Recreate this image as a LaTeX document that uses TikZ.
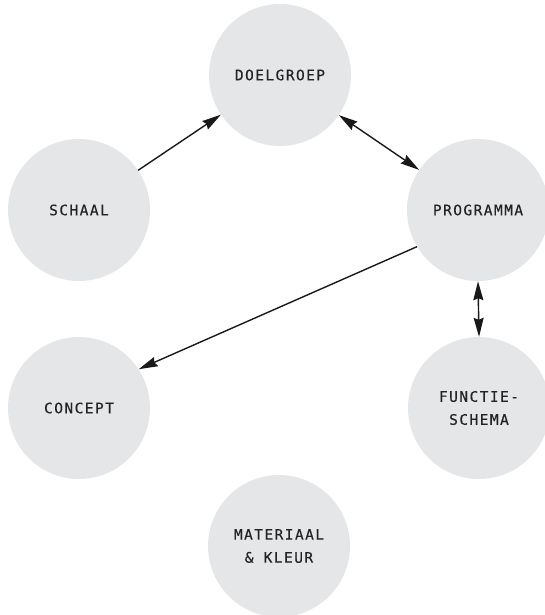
\documentclass[tikz,border=0pt]{standalone}
\usepackage{fontspec}
\newfontfamily\lblfont[LetterSpace=10,FakeBold=0.3]{DejaVu Sans Mono}
\usetikzlibrary{arrows.meta}
\definecolor{circfill}{RGB}{229,230,232}
\definecolor{lbltext}{RGB}{35,35,38}
\definecolor{arrowcol}{RGB}{25,25,25}
\begin{document}
\begin{tikzpicture}[x=1pt,y=-1pt,
  topic/.style={circle,fill=circfill,minimum size=142pt,inner sep=0pt,
    text=lbltext,align=center,font=\lblfont\fontsize{14.5}{23}\selectfont},
  conn/.style={draw=arrowcol,line width=1.4pt},
  tipA/.style={-{Stealth[length=19pt,width=10pt,inset=2pt]}},
  tipB/.style={{Stealth[length=19pt,width=10pt,inset=2pt]}-{Stealth[length=19pt,width=10pt,inset=2pt]}}]
\useasboundingbox (0,0) rectangle (544,615);
\node[topic] (doel) at (280,75) {DOELGROEP};
\node[topic] (schaal) at (79,210) {SCHAAL};
\node[topic] (prog) at (478,210) {PROGRAMMA};
\node[topic] (conc) at (79,408) {CONCEPT};
\node[topic] (func) at (479,408) {FUNCTIE-\\SCHEMA};
\node[topic] (mat) at (279,546) {MATERIAAL\\\& KLEUR};
\draw[conn,tipA] (schaal) -- (doel);
\draw[conn,tipB] (doel) -- (prog);
\draw[conn,tipA] (prog.211) -- (conc.33);
\draw[conn,tipB] (prog.south) -- (func.north);
\end{tikzpicture}
\end{document}
